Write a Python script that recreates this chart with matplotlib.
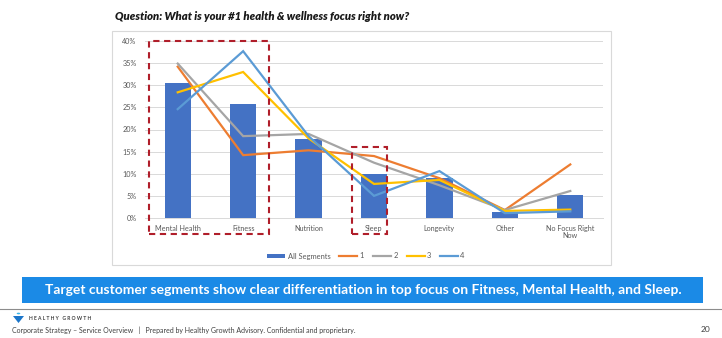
import matplotlib
matplotlib.use("Agg")
import matplotlib.pyplot as plt
import matplotlib.ticker as ticker
from matplotlib.patches import Rectangle, Polygon, Circle
from matplotlib.lines import Line2D
from matplotlib.patches import Patch

# ---------------------------------------------------------------------------
# Data (shares of respondents)
# ---------------------------------------------------------------------------
categories = ["Mental Health", "Fitness", "Nutrition", "Sleep", "Longevity",
              "Other", "No Focus Right\nNow"]
all_segments = [0.305, 0.258, 0.178, 0.099, 0.090, 0.014, 0.053]
seg_1 = [0.342, 0.142, 0.153, 0.140, 0.090, 0.018, 0.121]
seg_2 = [0.349, 0.185, 0.190, 0.125, 0.074, 0.018, 0.061]
seg_3 = [0.284, 0.330, 0.180, 0.077, 0.086, 0.016, 0.019]
seg_4 = [0.246, 0.377, 0.185, 0.050, 0.106, 0.011, 0.015]
segment_labels = ["1", "2", "3", "4"]
y_ticks = [0, 0.05, 0.10, 0.15, 0.20, 0.25, 0.30, 0.35, 0.40]

title = "Question: What is your #1 health & wellness focus right now?"
banner = ("Target customer segments show clear differentiation in top focus on "
          "Fitness, Mental Health, and Sleep.")
footer = ("Corporate Strategy \u2013 Service Overview   |   Prepared by Healthy Growth "
          "Advisory. Confidential and proprietary.")

# ---------------------------------------------------------------------------
# Style
# ---------------------------------------------------------------------------
W, H = 722, 338
BAR_COLOR = "#4472C4"
SEG_COLORS = ["#ED7D31", "#A5A5A5", "#FFC000", "#5B9BD5"]
RED = "#B01E2A"
TICK_GRAY = "#595959"
plt.rcParams["font.family"] = ["Lato", "DejaVu Sans"]


def px(x0, y0, x1, y1):
    """Pixel box (top-left origin) -> figure-fraction rect."""
    return [x0 / W, 1 - y1 / H, (x1 - x0) / W, (y1 - y0) / H]


fig = plt.figure(figsize=(W / 100, H / 100), dpi=100)
fig.patch.set_facecolor("white")

# chart frame
fr = px(112, 31, 611, 265)
fig.add_artist(Rectangle((fr[0], fr[1]), fr[2], fr[3], transform=fig.transFigure,
                         fill=False, edgecolor="#D9D9D9", linewidth=0.8))

ax = fig.add_axes(px(145, 41, 603, 218))
x = list(range(len(categories)))
ax.bar(x, all_segments, width=0.4, color=BAR_COLOR, label="All Segments", zorder=2)
for vals, col, lab in zip([seg_1, seg_2, seg_3, seg_4], SEG_COLORS, segment_labels):
    ax.plot(x, vals, color=col, linewidth=1.6, label=lab, zorder=3,
            solid_joinstyle="miter")

ax.set_xlim(-0.5, len(categories) - 0.5)
ax.set_ylim(0, 0.40)
ax.set_yticks(y_ticks)
ax.yaxis.set_major_formatter(ticker.PercentFormatter(1.0, decimals=0))
ax.set_xticks(x)
ax.set_xticklabels(categories, linespacing=1.0)
ax.tick_params(axis="both", length=0, labelsize=5.2, labelcolor=TICK_GRAY)
ax.tick_params(axis="y", pad=6)
ax.tick_params(axis="x", pad=5)
ax.grid(axis="y", color="#D9D9D9", linewidth=0.7, zorder=0)
ax.set_axisbelow(True)
for name, sp in ax.spines.items():
    sp.set_visible(name == "bottom")
ax.spines["bottom"].set_color("#D9D9D9")
ax.spines["bottom"].set_linewidth(0.7)

# legend
handles = [Patch(facecolor=BAR_COLOR, label="All Segments")]
handles += [Line2D([0], [0], color=c, linewidth=1.6, label=l)
            for c, l in zip(SEG_COLORS, segment_labels)]
fig.legend(handles=handles, loc="center", bbox_to_anchor=(366 / W, 1 - 256 / H),
           ncol=5, frameon=False, fontsize=5.4, handlelength=2.4, handleheight=0.5,
           columnspacing=1.2, handletextpad=0.3, labelcolor=TICK_GRAY)

# red dashed highlight boxes (data x, axis y)
for x0, x1, y_top in [(-0.44, 1.39, 0.401), (2.67, 3.20, 0.160)]:
    ax.add_patch(Rectangle((x0, -0.036), x1 - x0, y_top + 0.036, fill=False,
                           edgecolor=RED, linewidth=1.5, linestyle=(0, (3.0, 2.2)),
                           clip_on=False, zorder=5))

# title
fig.text(115 / W, 1 - 17 / H, title, fontsize=8.1, fontweight="heavy",
         fontstyle="italic", color="#1A1A1A", va="center", ha="left")

# banner
bn = px(22, 277, 703, 303)
fig.add_artist(Rectangle((bn[0], bn[1]), bn[2], bn[3], transform=fig.transFigure,
                         facecolor="#1B8AE6", edgecolor="none"))
fig.text(363 / W, 1 - 290 / H, banner, fontsize=10, fontweight="bold",
         color="white", ha="center", va="center")

# footer rule
fig.add_artist(Line2D([0, 1], [1 - 309 / H, 1 - 309 / H], transform=fig.transFigure,
                      color="#8C8C8C", linewidth=0.8))

# logo
fig.add_artist(Polygon([[13 / W, 1 - 316 / H], [24 / W, 1 - 316 / H],
                        [18.5 / W, 1 - 323 / H]], closed=True,
                       transform=fig.transFigure, facecolor="#1B75C9",
                       edgecolor="none"))
fig.add_artist(Circle((18.5 / W, 1 - 313.5 / H), 1.8 / W, transform=fig.transFigure,
                      facecolor="#3DB5E6", edgecolor="none"))
fig.text(29 / W, 1 - 318 / H, "H E A L T H Y   G R O W T H", fontsize=3.6,
         fontweight="bold", color="#404040", ha="left", va="center")
fig.text(12 / W, 1 - 330 / H, footer, fontsize=5.0, color="#404040",
         ha="left", va="center")
fig.text(706 / W, 1 - 329 / H, "20", fontsize=6, color="#404040",
         ha="center", va="center")

fig.savefig("out.png", dpi=100)
